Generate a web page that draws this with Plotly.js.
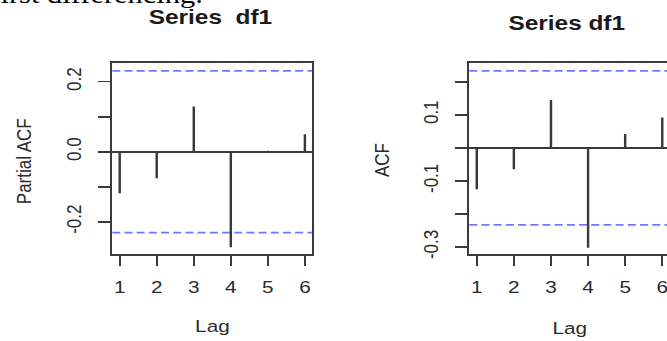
<!DOCTYPE html>
<html>
<head>
<meta charset="utf-8">
<script src="https://cdn.plot.ly/plotly-3.0.1.min.js"></script>
<style>
  html, body { margin: 0; padding: 0; background: #fff; overflow: hidden; width: 667px; height: 341px; }
  #plot { width: 551px; height: 341px; transform: scaleX(1.2194); transform-origin: 0 0; }
</style>
</head>
<body>
<div id="plot"></div>
<script>
// ---- data ----
const lags = [1, 2, 3, 4, 5, 6];
const xTickLabels = ['1', '2', '3', '4', '5', '6'];
const pacfValues = [-0.119, -0.076, 0.129, -0.273, 0.003, 0.050];
const acfValues  = [-0.125, -0.065, 0.145, -0.302, 0.042, 0.092];
const pacfBound = [0.231, -0.231];
const acfBound  = [0.233, -0.233];
const pacfYTicks = [-0.2, -0.1, 0.0, 0.1, 0.2];
const pacfYTickText = ['-0.2', '', '0.0', '', '0.2'];
const acfYTicks = [-0.3, -0.2, -0.1, 0.0, 0.1, 0.2];
const acfYTickText = ['-0.3', '', '-0.1', '', '0.1', ''];
const panelTitles = ['Series\u00a0 df1', 'Series df1'];
const yTitles = ['Partial ACF', 'ACF'];
const xTitle = 'Lag';
const captionText = 'first differencing.';

// ---- build ----
const ink = '#3a3a3a';
const textCol = '#2a2a2a';
const FONT = '"Liberation Sans", Arial, sans-serif';

function spikes(xs, ys) {
  const x = [], y = [];
  xs.forEach((v, i) => { x.push(v, v, null); y.push(0, ys[i], null); });
  return { x, y };
}
const s1 = spikes(lags, pacfValues);
const s2 = spikes(lags, acfValues);

const traces = [
  { x: s1.x, y: s1.y, xaxis: 'x', yaxis: 'y', type: 'scatter', mode: 'lines',
    line: { color: ink, width: 2 }, hoverinfo: 'skip', showlegend: false },
  { x: s2.x, y: s2.y, xaxis: 'x2', yaxis: 'y2', type: 'scatter', mode: 'lines',
    line: { color: ink, width: 2 }, hoverinfo: 'skip', showlegend: false }
];

function xAxis(domain, anchor) {
  return {
    domain: domain, anchor: anchor, range: [0.8, 6.2],
    tickvals: lags, ticktext: xTickLabels,
    ticks: 'outside', ticklen: 10, tickwidth: 1.6, tickcolor: ink,
    showline: true, linecolor: ink, linewidth: 1.8, mirror: true,
    showgrid: false, zeroline: false,
    tickfont: { family: FONT, size: 17, color: textCol },
    ticklabelstandoff: 7
  };
}
function yAxis(domain, anchor, range, tv, tt) {
  return {
    domain: domain, anchor: anchor, range: range,
    tickvals: tv, ticktext: tt, tickangle: -90,
    ticks: 'outside', ticklen: 10, tickwidth: 1.6, tickcolor: ink,
    showline: true, linecolor: ink, linewidth: 1.8, mirror: true,
    showgrid: false, zeroline: true, zerolinecolor: ink, zerolinewidth: 1.8,
    tickfont: { family: FONT, size: 17, color: textCol },
    ticklabelstandoff: 7
  };
}

const yDom = [0.2543, 0.8144];
const shapes = [];
[['x', 'y', pacfBound], ['x2', 'y2', acfBound]].forEach(([xa, ya, b]) => {
  b.forEach(v => shapes.push({
    type: 'line', xref: xa + ' domain', yref: ya, x0: 0, x1: 1, y0: v, y1: v,
    line: { color: 'rgba(70,70,255,0.75)', width: 1.8, dash: '6.5px,3.5px' }
  }));
});

const annotations = [
  { text: panelTitles[0], xref: 'paper', yref: 'paper', x: 173 / 551, y: 1 - 17 / 341,
    xanchor: 'center', yanchor: 'middle', showarrow: false,
    font: { family: FONT, size: 20, color: '#1a1a1a', weight: 'bold' } },
  { text: panelTitles[1], xref: 'paper', yref: 'paper', x: 464.7 / 551, y: 1 - 23.3 / 341,
    xanchor: 'center', yanchor: 'middle', showarrow: false,
    font: { family: FONT, size: 20, color: '#1a1a1a', weight: 'bold' } },
  { text: yTitles[0], xref: 'paper', yref: 'paper', x: 20.5 / 551, y: 1 - 161.7 / 341,
    xanchor: 'center', yanchor: 'middle', textangle: -90, showarrow: false,
    font: { family: FONT, size: 17, color: textCol } },
  { text: yTitles[1], xref: 'paper', yref: 'paper', x: 313 / 551, y: 1 - 160 / 341,
    xanchor: 'center', yanchor: 'middle', textangle: -90, showarrow: false,
    font: { family: FONT, size: 17, color: textCol } },
  { text: xTitle, xref: 'paper', yref: 'paper', x: 173.6 / 551, y: 1 - 326.7 / 341,
    xanchor: 'center', yanchor: 'middle', showarrow: false,
    font: { family: FONT, size: 17, color: textCol } },
  { text: xTitle, xref: 'paper', yref: 'paper', x: 467.4 / 551, y: 1 - 328 / 341,
    xanchor: 'center', yanchor: 'middle', showarrow: false,
    font: { family: FONT, size: 17, color: textCol } },
  { text: captionText, xref: 'paper', yref: 'paper', x: 168 / 551, y: 1 + 5.5 / 341,
    xanchor: 'right', yanchor: 'middle', showarrow: false,
    font: { family: '"Liberation Serif", "Times New Roman", serif', size: 25, color: '#000' } }
];

const layout = {
  width: 551, height: 341,
  margin: { l: 0, r: 0, t: 0, b: 0, pad: 0 },
  paper_bgcolor: '#fff', plot_bgcolor: '#fff',
  showlegend: false,
  xaxis: xAxis([92.1 / 551, 256.1 / 551], 'y'),
  yaxis: yAxis(yDom, 'x', [-0.293, 0.2526], pacfYTicks, pacfYTickText),
  xaxis2: xAxis([384.9 / 551, 549.2 / 551], 'y2'),
  yaxis2: yAxis(yDom, 'x2', [-0.322, 0.2558], acfYTicks, acfYTickText),
  shapes: shapes,
  annotations: annotations
};

Plotly.newPlot('plot', traces, layout, { staticPlot: true, displayModeBar: false });
</script>
</body>
</html>
